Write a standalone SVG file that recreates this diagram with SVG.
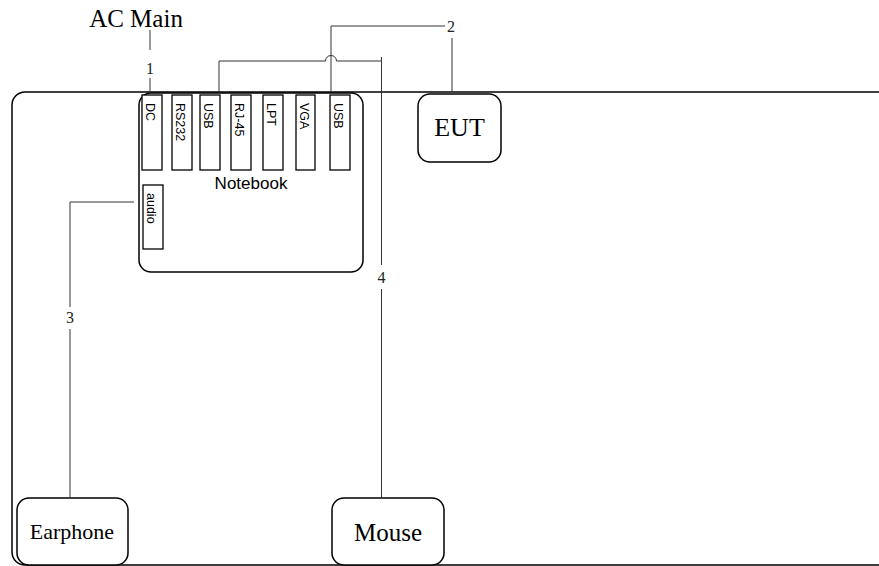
<svg xmlns="http://www.w3.org/2000/svg" width="879" height="566" viewBox="0 0 879 566">
<style>
.box{fill:#fff;stroke:#000;stroke-width:1.5}
.port{fill:#fff;stroke:#000;stroke-width:1.3}
.wire{fill:none;stroke:#333;stroke-width:1}
.serif{font-family:"Liberation Serif","Times New Roman",serif;fill:#000}
.sans{font-family:"Liberation Sans",Arial,sans-serif;fill:#000}
.num{font-family:"Liberation Serif","Times New Roman",serif;font-size:16px;fill:#222;text-anchor:middle}
.plabel{font-family:"Liberation Sans",Arial,sans-serif;font-size:12.5px;fill:#000}
</style>
<rect width="879" height="566" fill="#fff"/>
<g id="outer">
<rect class="box" x="12" y="92" width="900" height="473" rx="13"/>
</g>
<g id="notebook">
<rect class="box" x="139" y="93" width="224" height="179" rx="12"/>
<text class="sans" x="251" y="189" font-size="17" text-anchor="middle">Notebook</text>
</g>
<g id="port-dc"><rect class="port" x="142" y="95" width="20" height="75"/><text class="plabel" transform="translate(146,103) rotate(90)">DC</text></g>
<g id="port-rs232"><rect class="port" x="172" y="95" width="20" height="75"/><text class="plabel" transform="translate(176,103) rotate(90)">RS232</text></g>
<g id="port-usb1"><rect class="port" x="200" y="95" width="20" height="75"/><text class="plabel" transform="translate(204,103) rotate(90)">USB</text></g>
<g id="port-rj45"><rect class="port" x="231" y="95" width="20" height="75"/><text class="plabel" transform="translate(235,103) rotate(90)">RJ-45</text></g>
<g id="port-lpt"><rect class="port" x="263" y="95" width="20" height="75"/><text class="plabel" transform="translate(267,103) rotate(90)">LPT</text></g>
<g id="port-vga"><rect class="port" x="296" y="95" width="19" height="75"/><text class="plabel" transform="translate(299.5,103) rotate(90)">VGA</text></g>
<g id="port-usb2"><rect class="port" x="330" y="95" width="20" height="75"/><text class="plabel" transform="translate(334,103) rotate(90)">USB</text></g>
<g id="port-audio"><rect class="port" x="143" y="185" width="20" height="64"/><text class="plabel" font-size="14" transform="translate(147,193) rotate(90)">audio</text></g>
<g id="eut">
<rect class="box" x="418" y="94" width="83" height="68" rx="12"/>
<text class="serif" x="459.5" y="136" font-size="26" text-anchor="middle">EUT</text>
</g>
<g id="earphone">
<rect class="box" x="17" y="498" width="111" height="67" rx="12"/>
<text class="serif" x="72" y="539" font-size="22" text-anchor="middle">Earphone</text>
</g>
<g id="mouse">
<rect class="box" x="332" y="498" width="112" height="67" rx="12"/>
<text class="serif" x="388" y="541" font-size="25" text-anchor="middle">Mouse</text>
</g>
<g id="acmain">
<text class="serif" x="136" y="27" font-size="25" text-anchor="middle">AC Main</text>
</g>
<g id="connectors">
<path class="wire" d="M150 30 V50 M150 78 V93"/>
<text class="num" x="150" y="74">1</text>
<path class="wire" d="M331 92 V26 H445 M452 38 V92"/>
<text class="num" x="451" y="32">2</text>
<path class="wire" d="M219 92 V61 H325.5 A5.5 5.5 0 0 1 336.5 61 H381.5"/>
<path class="wire" d="M381.5 57 V265 M381.5 289 V498"/>
<text class="num" x="381.5" y="283">4</text>
<path class="wire" d="M134 202 H70 V307 M70 329 V498"/>
<text class="num" x="70" y="323">3</text>
</g>
</svg>
